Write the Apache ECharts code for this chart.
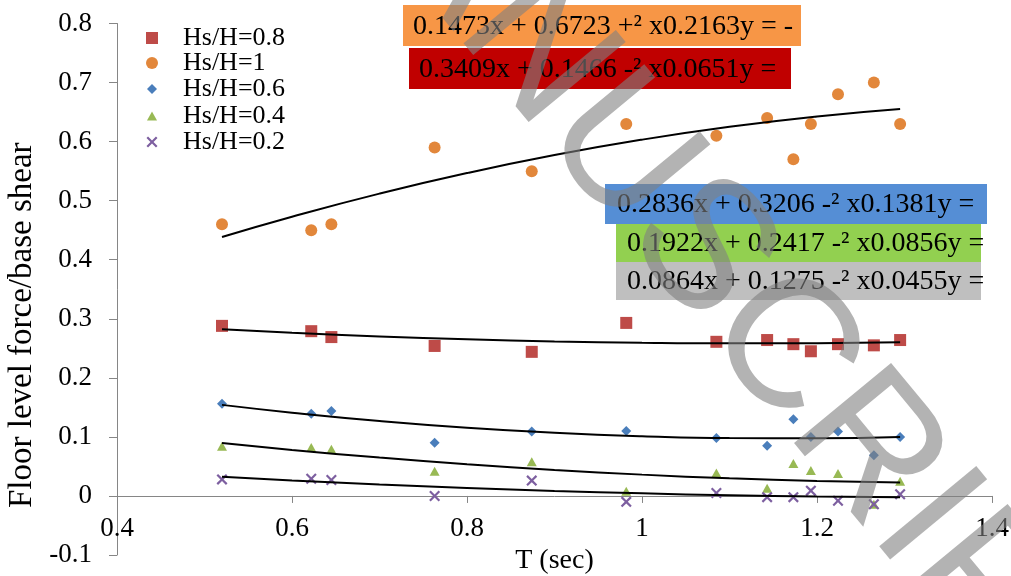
<!DOCTYPE html>
<html>
<head>
<meta charset="utf-8">
<script src="https://cdn.jsdelivr.net/npm/echarts@6/dist/echarts.min.js"></script>
<style>
html,body{margin:0;padding:0;background:#fff;}
#chart{width:1011px;height:576px;}
</style>
</head>
<body>
<div id="chart"></div>
<script>
// ---- data ----
var seriesNames = ['Hs/H=0.8', 'Hs/H=1', 'Hs/H=0.6', 'Hs/H=0.4', 'Hs/H=0.2'];
var periodT = [0.52, 0.622, 0.645, 0.763, 0.874, 0.982, 1.085, 1.143, 1.173, 1.193, 1.224, 1.265, 1.295];
var hs08 = [0.288, 0.279, 0.269, 0.254, 0.244, 0.293, 0.261, 0.264, 0.257, 0.245, 0.257, 0.255, 0.264];
var hs10 = [0.460, 0.450, 0.460, 0.590, 0.550, 0.630, 0.610, 0.640, 0.570, 0.630, 0.680, 0.700, 0.630];
var hs06 = [0.156, 0.139, 0.144, 0.090, 0.109, 0.110, 0.098, 0.085, 0.130, 0.100, 0.109, 0.069, 0.100];
var hs04 = [0.084, 0.082, 0.079, 0.042, 0.058, 0.008, 0.039, 0.013, 0.055, 0.043, 0.038, -0.014, 0.025];
var hs02 = [0.028, 0.029, 0.027, 0.000, 0.026, -0.010, 0.005, -0.002, -0.002, 0.009, -0.008, -0.014, 0.003];

// trend lines
var trendT = [0.52, 0.6, 0.7, 0.8, 0.9, 1.0, 1.1, 1.2, 1.295];
var trend08 = [0.2823, 0.2764, 0.2702, 0.2653, 0.2617, 0.2594, 0.2584, 0.2587, 0.2602];
var trend10 = [0.4384, 0.4728, 0.5119, 0.5467, 0.5772, 0.6033, 0.6251, 0.6426, 0.6552];
var trend06 = [0.1542, 0.1410, 0.1269, 0.1155, 0.1069, 0.1011, 0.0980, 0.0977, 0.1000];
var trend04 = [0.0897, 0.0780, 0.0650, 0.0536, 0.0440, 0.0361, 0.0299, 0.0254, 0.0228];
var trend02 = [0.0324, 0.0263, 0.0194, 0.0135, 0.0085, 0.0044, 0.0012, -0.0011, -0.0024];

// equation labels as printed
var eqTexts = [
  '0.1473x + 0.6723 +\u00B2 x0.2163y = -',
  '0.3409x + 0.1466 -\u00B2 x0.0651y =',
  '0.2836x + 0.3206 -\u00B2 x0.1381y =',
  '0.1922x + 0.2417 -\u00B2 x0.0856y =',
  '0.0864x + 0.1275 -\u00B2 x0.0455y ='
];
var xTicks = [0.4, 0.6, 0.8, 1.0, 1.2, 1.4];
var yTicks = [-0.1, 0, 0.1, 0.2, 0.3, 0.4, 0.5, 0.6, 0.7, 0.8];

// ---- styling ----
var SERIF = 'Liberation Serif';
var colors = ['#BE4B48', '#E2873B', '#4A7EBB', '#98B954', '#7D5FA0'];
var xPath = 'path://M0,1.4L1.4,0L5,3.6L8.6,0L10,1.4L6.4,5L10,8.6L8.6,10L5,6.4L1.4,10L0,8.6L3.6,5Z';
var symbols = ['rect', 'circle', 'diamond', 'triangle', xPath];
var symSizes = [[12, 12], [12, 12], [10, 10], [10, 9], [11, 11]];
var pointSets = [hs08, hs10, hs06, hs04, hs02];
var trendSets = [trend08, trend10, trend06, trend04, trend02];

function pairs(xs, ys) { return xs.map(function (x, i) { return [x, ys[i]]; }); }

var series = [];
pointSets.forEach(function (ys, k) {
  series.push({
    name: seriesNames[k], type: 'scatter', data: pairs(periodT, ys),
    symbol: symbols[k], symbolSize: symSizes[k],
    itemStyle: { color: colors[k], opacity: 1 }, z: 2
  });
});
trendSets.forEach(function (ys, k) {
  series.push({
    name: 'trend' + k, type: 'line', data: pairs(trendT, ys), smooth: true,
    showSymbol: false, symbol: 'none', silent: true,
    lineStyle: { color: '#000', width: 2 }, z: 3
  });
});

var legendRows = [38, 63, 89, 116, 142];
var legends = seriesNames.map(function (n, k) {
  var w = symSizes[k][0], h = symSizes[k][1];
  return {
    data: [{ name: n, icon: symbols[k] }], orient: 'vertical', padding: 0,
    left: 152 - w / 2, top: legendRows[k] - 13, itemWidth: w, itemHeight: h,
    selectedMode: false,
    textStyle: { fontFamily: SERIF, fontSize: 26, color: '#000', padding: [0, 0, 0, 26 - w / 2] }
  };
});

var boxes = [
  { x: 403, y: 5, w: 398, h: 41, c: '#F79646', tx: 413 },
  { x: 409, y: 48, w: 382, h: 41, c: '#C00000', tx: 419 },
  { x: 605, y: 184, w: 382, h: 40, c: '#558ED5', tx: 617 },
  { x: 616, y: 224, w: 365, h: 38, c: '#92D050', tx: 627 },
  { x: 616, y: 262, w: 365, h: 38, c: '#BFBFBF', tx: 627 }
];
var graphics = [];
boxes.forEach(function (b, i) {
  graphics.push({ type: 'rect', shape: { x: b.x, y: b.y, width: b.w, height: b.h }, style: { fill: b.c }, z: 10 });
  graphics.push({ type: 'text', x: b.tx, y: b.y + b.h / 2 + 1, style: { text: eqTexts[i], font: '28px "Liberation Serif"', fill: '#000', align: 'left', verticalAlign: 'middle' }, z: 11 });
});
// watermark
graphics.push({
  type: 'text', x: 318, y: -212, rotation: -0.88,
  style: { text: 'MANUSCRIPT', font: '183px "Liberation Sans"', fill: 'rgba(128,128,128,0.6)', align: 'left', verticalAlign: 'middle' },
  z: 50
});

var chart = echarts.init(document.getElementById('chart'), null, { renderer: 'canvas' });
chart.setOption({
  animation: false,
  backgroundColor: '#fff',
  grid: { left: 117, right: 19, top: 23.5, bottom: 21, containLabel: false, outerBoundsMode: 'none' },
  xAxis: {
    type: 'value', min: xTicks[0], max: xTicks[xTicks.length - 1], interval: 0.2,
    name: 'T (sec)', nameLocation: 'middle', nameGap: -11,
    nameTextStyle: { fontFamily: SERIF, fontSize: 28, color: '#000' },
    axisLine: { show: true, onZero: true, lineStyle: { color: '#868686', width: 1 } },
    axisTick: { show: true, length: 7, lineStyle: { color: '#868686' } },
    axisLabel: { fontFamily: SERIF, fontSize: 27, color: '#000', margin: -40, showMinLabel: true, showMaxLabel: true, hideOverlap: false,
      formatter: function (v) { return String(Math.round(v * 10) / 10); } },
    splitLine: { show: false }
  },
  yAxis: {
    type: 'value', min: yTicks[0], max: yTicks[yTicks.length - 1], interval: 0.1,
    name: 'Floor level force/base shear', nameLocation: 'middle', nameGap: 78, nameRotate: 90,
    nameTextStyle: { fontFamily: SERIF, fontSize: 33, color: '#000', padding: [0, 72, 0, 0] },
    axisLine: { show: true, lineStyle: { color: '#868686', width: 1 } },
    axisTick: { show: true, length: 8, lineStyle: { color: '#868686' } },
    axisLabel: { fontFamily: SERIF, fontSize: 27, color: '#000', margin: 25,
      formatter: function (v) { return String(Math.round(v * 10) / 10); } },
    splitLine: { show: false }
  },
  legend: legends,
  series: series,
  graphic: graphics
});
</script>
</body>
</html>
